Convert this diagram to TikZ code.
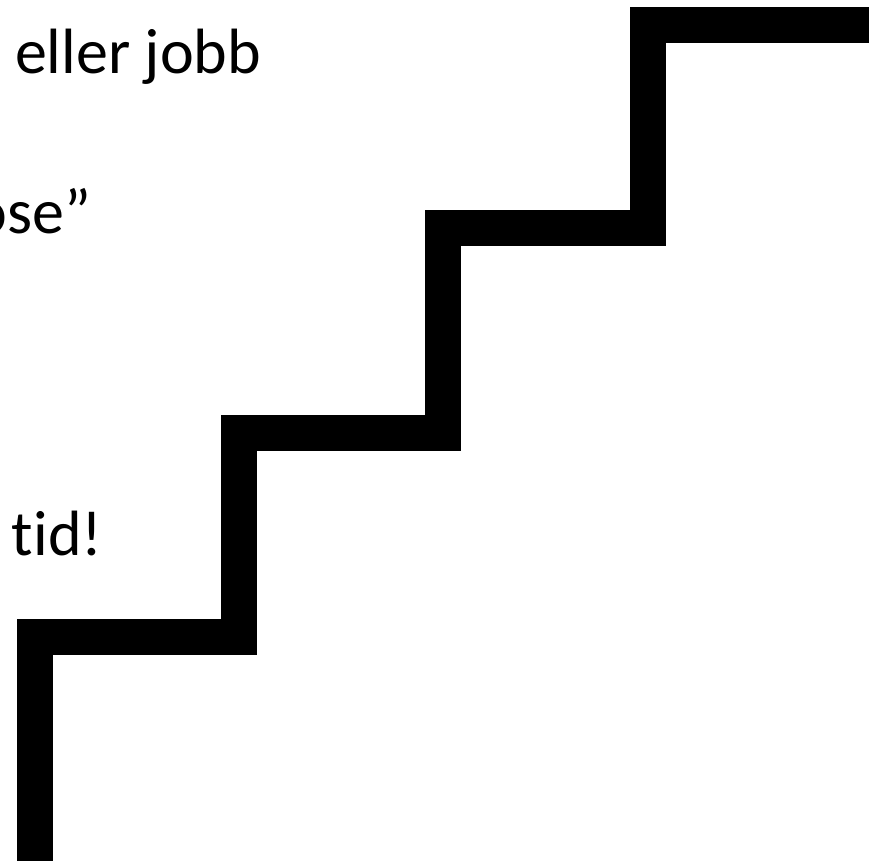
\documentclass[tikz,border=0pt]{standalone}
\usepackage{fontspec}
\setmainfont[Ligatures={NoCommon,NoRare}]{Carlito}
\begin{document}
\begin{tikzpicture}[x=1pt,y=-1pt,
  lbl/.style={inner sep=0pt,outer sep=0pt,font=\fontsize{64}{77}\selectfont},
  stair/.style={line width=36pt,line join=miter,black}]
\useasboundingbox (0,0) rectangle (869,860);
\coordinate (s0) at (34.5,880);
\coordinate (s1) at (34.5,637);
\coordinate (s2) at (238.5,637);
\coordinate (s3) at (238.5,432.5);
\coordinate (s4) at (443,432.5);
\coordinate (s5) at (443,228);
\coordinate (s6) at (647.5,228);
\coordinate (s7) at (647.5,24.5);
\coordinate (s8) at (890,24.5);
\draw[stair] (s0) -- (s1) -- (s2) -- (s3) -- (s4) -- (s5) -- (s6) -- (s7) -- (s8);
\node[lbl,anchor=base west] (t1) at (15,73) {eller jobb};
\node[lbl,anchor=base east] (t2) at (91,233) {ose”};
\node[lbl,anchor=base west] (t3) at (12,555) {t\kern0pt id!};
\end{tikzpicture}
\end{document}
